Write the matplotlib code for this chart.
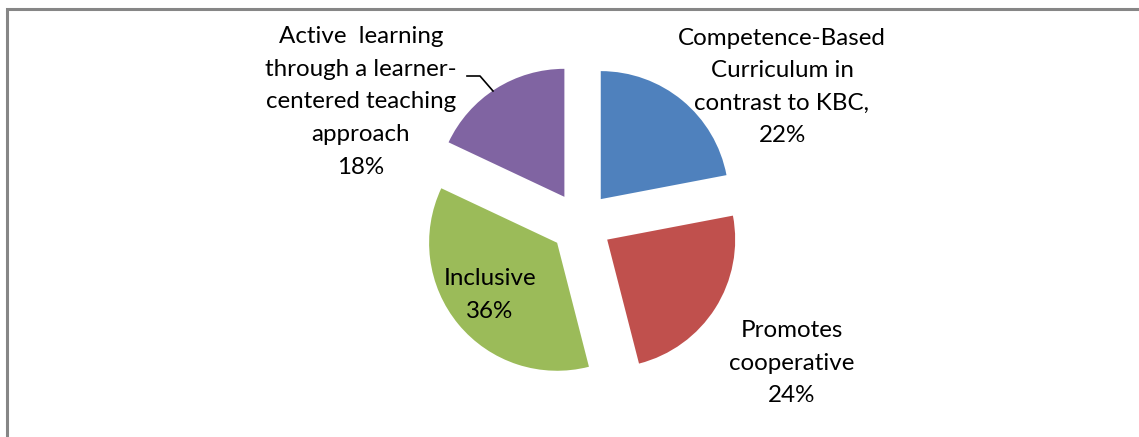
import matplotlib

matplotlib.use("Agg")
import matplotlib.pyplot as plt
from matplotlib.patches import Rectangle

categories = [
    "Competence-Based\nCurriculum in\ncontrast to KBC,",
    "Promotes\ncooperative",
    "Inclusive",
    "Active  learning\nthrough a learner-\ncentered teaching\napproach",
]
shares = [22, 24, 36, 18]
colors = ["#4F81BD", "#C0504D", "#9BBB59", "#8064A2"]

W, H = 1139, 437
fig = plt.figure(figsize=(W / 100, H / 100), dpi=100)
ax = fig.add_axes([0, 0, 1, 1])

# axes in pixel units so the pie sits where it does in the original
cx, cy, r = 581, H - 223, 128
ax.pie(shares, colors=colors, startangle=90, counterclock=False,
       explode=[31] * len(shares), radius=r, center=(cx, cy), frame=True,
       wedgeprops=dict(linewidth=0))
ax.set_xlim(0, W)
ax.set_ylim(0, H)
ax.set_aspect("auto")
ax.axis("off")

# label centres in pixels (from top-left)
label_pos = [(782, 87), (792, 363), (490, 295), (361, 102)]
for cat, val, (lx, ly) in zip(categories, shares, label_pos):
    ax.text(lx, H - ly, f"{cat}\n{val}%", ha="center", va="center",
            fontsize=17.4, family="Lato", linespacing=1.68, color="black")

# leader line for the purple slice
ax.plot([467, 480, 493], [H - 76, H - 76, H - 91], color="black", lw=1.2)

# outer frame (only left and top edges visible)
ax.add_patch(Rectangle((6.5, -10), W + 20, H - 8.5 + 10, fill=False,
                       edgecolor="#868686", lw=2.2))

fig.savefig("out.png", dpi=100)
